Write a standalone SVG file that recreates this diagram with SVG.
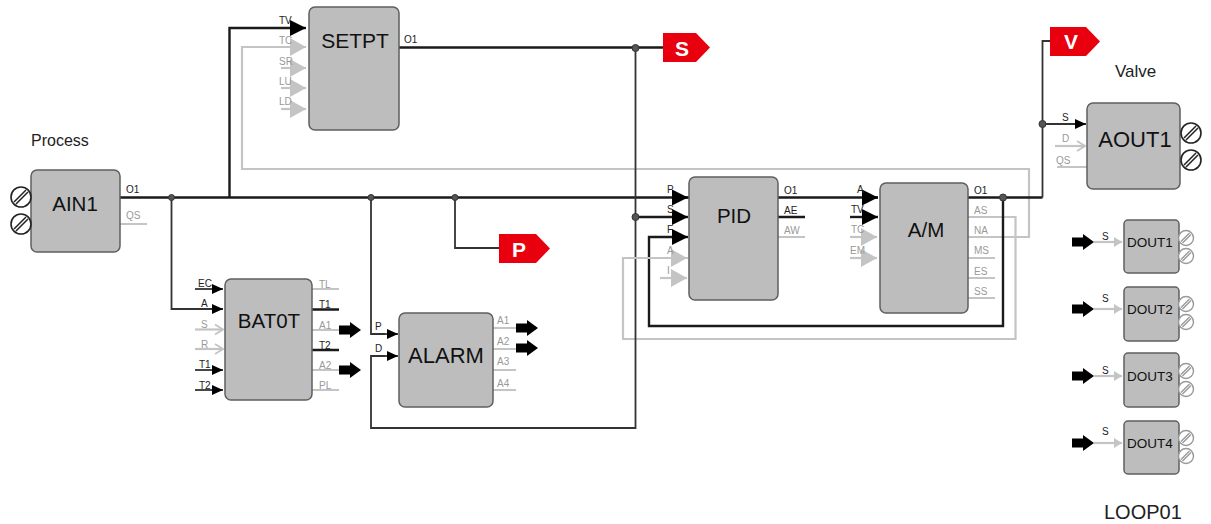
<svg xmlns="http://www.w3.org/2000/svg" width="1211" height="524" viewBox="0 0 1211 524">
<style>
text{font-family:"Liberation Sans",Arial,sans-serif}
.box{fill:#bdbdbd;stroke:#5f5f5f;stroke-width:1.5}
.n{font-size:20.500px;fill:#111;text-anchor:middle}
.w{font-size:22px}
.n2{font-size:13.500px;fill:#111;text-anchor:middle}
.cap{font-size:16px;fill:#222}
.l{font-size:10px;fill:#222}
.g{font-size:10px;fill:#999}
.tag{font-size:21px;font-weight:bold;fill:#fff;text-anchor:middle}
.k{fill:none;stroke:#1a1a1a;stroke-width:2.4}
.k1{fill:none;stroke:#333;stroke-width:1.8}
.y{fill:none;stroke:#c4c4c4;stroke-width:2.2}
.dot{fill:#555;stroke:#333}
.red{fill:#e8000f}
.sc{fill:#fff;stroke:#222;stroke-width:1.6}
.sl{stroke:#222;stroke-width:1.5}
.scg{fill:#fff;stroke:#999;stroke-width:1.4}
</style>
<defs>
<marker id="ah" markerUnits="userSpaceOnUse" markerWidth="18" markerHeight="18" refX="16" refY="9" orient="auto"><path d="M0,1 L16,9 L0,17 Z" fill="#000"/></marker>
<marker id="am" markerUnits="userSpaceOnUse" markerWidth="12" markerHeight="12" refX="11" refY="6" orient="auto"><path d="M0,1 L11,6 L0,11 Z" fill="#000"/></marker>
<marker id="gh" markerUnits="userSpaceOnUse" markerWidth="18" markerHeight="20" refX="16" refY="10" orient="auto"><path d="M0,1 L16,10 L0,19 Z" fill="#c4c4c4"/></marker>
<marker id="go" markerUnits="userSpaceOnUse" markerWidth="10" markerHeight="12" refX="9" refY="6" orient="auto"><path d="M1,1 L9,6 L1,11" fill="none" stroke="#c4c4c4" stroke-width="1.8"/></marker>
<marker id="gs" markerUnits="userSpaceOnUse" markerWidth="9" markerHeight="12" refX="8" refY="6" orient="auto"><path d="M0,1 L8,6 L0,11 Z" fill="#c4c4c4"/></marker>
<path id="fat" d="M0,-4.500 H11 V-8 L22,0 L11,8 V4.500 H0 Z" fill="#000"/>
<g id="screw"><circle class="sc" r="10"/><path class="sl" d="M-7,5 L5,-7 M-5,7 L7,-5"/></g>
<g id="screwS" class="scg"><circle r="7.500"/><path d="M-5,3.500 L3.500,-5 M-3.500,5 L5,-3.500"/></g>
</defs>

<g id="connectors">
<path class="y" d="M306,47 H242 V169 H1029 V237 H968"/>
<path class="y" d="M688,258 H623 V339 H1015.500 V217 H968"/>
<path class="k" d="M120,197.500 H878"/>
<path class="k1" d="M171.500,197.500 V309 H205"/>
<path class="k" d="M229.500,197.500 V28 H290"/>
<path class="k1" d="M371,197.500 V334 H385"/>
<path class="k1" d="M385,356 H371 V428 H635.500 V47"/>
<path class="k1" d="M455,197.500 V248 H499"/>
<path class="k" d="M399,47.500 H663"/>
<path class="k" d="M635.500,217 H672"/>
<path class="k" d="M1003,197.500 V326 H649 V237 H672"/>
<path class="k" d="M968,197.500 H1042.500"/>
<path class="k1" d="M1042.500,197.500 V41 H1050"/>

<path class="k" d="M290,28 H306" marker-end="url(#ah)"/>
<path class="k" d="M672,197.500 H688" marker-end="url(#ah)"/>
<path class="k" d="M672,217 H688" marker-end="url(#ah)"/>
<path class="k" d="M672,237 H688" marker-end="url(#ah)"/>
<path class="k" d="M862,197.500 H878" marker-end="url(#ah)"/>
<path class="k" d="M850,217 H878" marker-end="url(#ah)"/>
<path class="k1" d="M1042.500,124 H1086" marker-end="url(#am)"/>
<path class="k1" d="M371,334 H398" marker-end="url(#am)"/>
<path class="k1" d="M380,356 H398" marker-end="url(#am)"/>
<path class="k1" d="M195,289 H223" marker-end="url(#am)"/>
<path class="k1" d="M171.500,309 H223" marker-end="url(#am)"/>
<path class="k1" d="M195,370 H223" marker-end="url(#am)"/>
<path class="k1" d="M195,390 H223" marker-end="url(#am)"/>

<path class="y" d="M242,47 H306" marker-end="url(#gh)"/>
<path class="y" d="M281,68 H306" marker-end="url(#gh)"/>
<path class="y" d="M281,88 H306" marker-end="url(#gh)"/>
<path class="y" d="M281,109 H306" marker-end="url(#gh)"/>
<path class="y" d="M623,258 H687" marker-end="url(#gh)"/>
<path class="y" d="M660,278 H687" marker-end="url(#gh)"/>
<path class="y" d="M850,237 H877" marker-end="url(#gh)"/>
<path class="y" d="M850,258 H877" marker-end="url(#gh)"/>
<path class="y" d="M195,329.500 H223" marker-end="url(#go)"/>
<path class="y" d="M195,349 H223" marker-end="url(#go)"/>
<path class="y" d="M1055,146 H1085" marker-end="url(#go)"/>
<path class="y" d="M1094,242 H1122" marker-end="url(#gs)"/>
<path class="y" d="M1094,309 H1122" marker-end="url(#gs)"/>
<path class="y" d="M1094,376 H1122" marker-end="url(#gs)"/>
<path class="y" d="M1094,443 H1122" marker-end="url(#gs)"/>

<path class="y" d="M120,224 H147 M312,289 H339 M312,330 H339 M312,370 H339 M312,390 H339 M493,328 H516 M493,349 H516 M493,370 H516 M493,390 H516 M778,237 H805 M968,258 H995 M968,278 H995 M968,298 H995 M1057,167 H1087"/>
<path class="k" d="M312,309.500 H339 M312,350 H339 M778,217 H805"/>

<use href="#fat" x="339" y="330"/><use href="#fat" x="339" y="370"/>
<use href="#fat" x="516" y="328"/><use href="#fat" x="516" y="348"/>
<use href="#fat" x="1072" y="242"/><use href="#fat" x="1072" y="309"/><use href="#fat" x="1072" y="376"/><use href="#fat" x="1072" y="443"/>

<circle class="dot" cx="171.500" cy="197.500" r="3"/>
<circle class="dot" cx="371" cy="197.500" r="3"/>
<circle class="dot" cx="455" cy="197.500" r="3"/>
<circle class="dot" cx="635.500" cy="48" r="3.500"/>
<circle class="dot" cx="635.500" cy="217" r="3.500"/>
<circle class="dot" cx="1003" cy="197.500" r="3.500"/>
<circle class="dot" cx="1042.500" cy="124" r="3.500"/>
</g>

<g id="AIN1"><rect class="box" x="31" y="170" width="89" height="82" rx="6"/><text class="n" x="75" y="211">AIN1</text>
<use href="#screw" x="21" y="197"/><use href="#screw" x="21" y="224"/>
<text class="l" x="126" y="193">O1</text><text class="g" x="126" y="219">QS</text></g>

<g id="BAT0T"><rect class="box" x="225" y="279" width="87" height="121" rx="6"/><text class="n" x="269" y="328">BAT0T</text>
<text class="l" x="198" y="287">EC</text><text class="l" x="201" y="307">A</text><text class="g" x="201" y="328">S</text><text class="g" x="201" y="348">R</text><text class="l" x="199" y="368">T1</text><text class="l" x="199" y="389">T2</text>
<text class="g" x="319" y="288">TL</text><text class="l" x="319" y="308">T1</text><text class="g" x="319" y="329">A1</text><text class="l" x="319" y="349">T2</text><text class="g" x="319" y="369">A2</text><text class="g" x="319" y="389">PL</text></g>

<g id="ALARM"><rect class="box" x="399" y="313" width="94" height="94" rx="6"/><text class="n w" x="446" y="363">ALARM</text>
<text class="l" x="375" y="330">P</text><text class="l" x="375" y="352">D</text>
<text class="g" x="497" y="324">A1</text><text class="g" x="497" y="345">A2</text><text class="g" x="497" y="365">A3</text><text class="g" x="497" y="387">A4</text></g>

<g id="SETPT"><rect class="box" x="309" y="7" width="90" height="123" rx="6"/><text class="n" x="355" y="48" style="font-size:21px">SETPT</text>
<text class="l" x="279" y="24">TV</text><text class="g" x="279" y="44">TC</text><text class="g" x="279" y="65">SR</text><text class="g" x="279" y="85">LU</text><text class="g" x="279" y="105">LD</text>
<text class="l" x="404" y="43">O1</text></g>

<g id="PID"><rect class="box" x="689" y="177" width="89" height="123" rx="6"/><text class="n" x="734" y="223">PID</text>
<text class="l" x="667" y="193">P</text><text class="l" x="667" y="213">S</text><text class="l" x="667" y="233">F</text><text class="g" x="667" y="254">A</text><text class="g" x="667" y="274">I</text>
<text class="l" x="784" y="194">O1</text><text class="l" x="784" y="214">AE</text><text class="g" x="784" y="234">AW</text></g>

<g id="AM"><rect class="box" x="880" y="183" width="88" height="130" rx="6"/><text class="n" x="926" y="237">A/M</text>
<text class="l" x="857" y="193">A</text><text class="l" x="851" y="213">TV</text><text class="g" x="851" y="233">TC</text><text class="g" x="850" y="254">EM</text>
<text class="l" x="974" y="194">O1</text><text class="g" x="974" y="214">AS</text><text class="g" x="974" y="234">NA</text><text class="g" x="974" y="254">MS</text><text class="g" x="974" y="275">ES</text><text class="g" x="974" y="295">SS</text></g>

<g id="AOUT1"><rect class="box" x="1087" y="103" width="93" height="86" rx="6"/><text class="n w" x="1135" y="147">AOUT1</text>
<use href="#screw" x="1191" y="133"/><use href="#screw" x="1191" y="160"/>
<text class="l" x="1062" y="121">S</text><text class="g" x="1062" y="142">D</text><text class="g" x="1056" y="164">QS</text></g>

<g id="DOUT1"><rect class="box" x="1124" y="220" width="55" height="53" rx="4"/><text class="n2" x="1150" y="247">DOUT1</text><text class="l" x="1102" y="240">S</text><use href="#screwS" x="1186" y="238"/><use href="#screwS" x="1186" y="256"/></g>
<g id="DOUT2"><rect class="box" x="1124" y="287" width="55" height="54" rx="4"/><text class="n2" x="1150" y="314">DOUT2</text><text class="l" x="1102" y="302">S</text><use href="#screwS" x="1186" y="304"/><use href="#screwS" x="1186" y="322"/></g>
<g id="DOUT3"><rect class="box" x="1124" y="353" width="55" height="54" rx="4"/><text class="n2" x="1150" y="381">DOUT3</text><text class="l" x="1102" y="374">S</text><use href="#screwS" x="1186" y="371"/><use href="#screwS" x="1186" y="389"/></g>
<g id="DOUT4"><rect class="box" x="1124" y="421" width="55" height="53" rx="4"/><text class="n2" x="1150" y="448">DOUT4</text><text class="l" x="1102" y="435">S</text><use href="#screwS" x="1186" y="438"/><use href="#screwS" x="1186" y="456"/></g>

<g id="tagS"><path class="red" d="M663,33 H696 L710,47.500 L696,62 H663 Z"/><text class="tag" x="682" y="56">S</text></g>
<g id="tagP"><path class="red" d="M499,234 H536 L550,248.500 L536,263 H499 Z"/><text class="tag" x="519" y="257">P</text></g>
<g id="tagV"><path class="red" d="M1050,27 H1086 L1100,41.500 L1086,56 H1050 Z"/><text class="tag" x="1071" y="49">V</text></g>

<text class="cap" x="31" y="146">Process</text>
<text class="cap" x="1115" y="77" style="font-size:17px">Valve</text>
<text class="cap" x="1104" y="519" style="font-size:20px">LOOP01</text>
</svg>
